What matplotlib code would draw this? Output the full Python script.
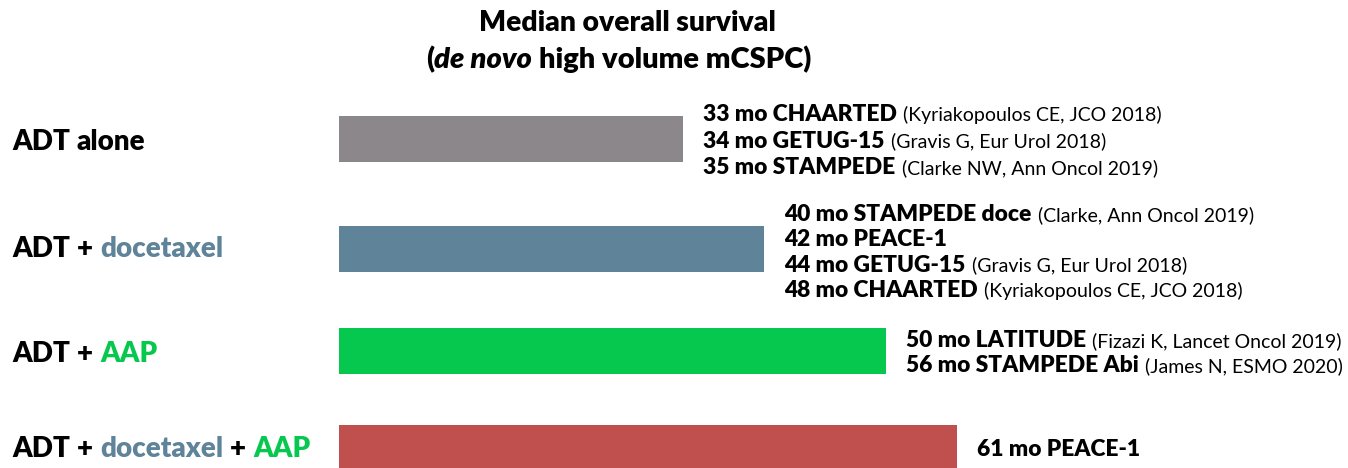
import matplotlib
matplotlib.use("Agg")
import matplotlib.pyplot as plt
from matplotlib.transforms import IdentityTransform

# ---- data -------------------------------------------------------------
categories = ["ADT alone", "ADT + docetaxel", "ADT + AAP", "ADT + docetaxel + AAP"]
median_os_months = [34, 42, 54, 61]

trial_results = [
    [("33 mo CHAARTED", "(Kyriakopoulos CE, JCO 2018)"),
     ("34 mo GETUG-15", "(Gravis G, Eur Urol 2018)"),
     ("35 mo STAMPEDE", "(Clarke NW, Ann Oncol 2019)")],
    [("40 mo STAMPEDE doce", "(Clarke, Ann Oncol 2019)"),
     ("42 mo PEACE-1", ""),
     ("44 mo GETUG-15", "(Gravis G, Eur Urol 2018)"),
     ("48 mo CHAARTED", "(Kyriakopoulos CE, JCO 2018)")],
    [("50 mo LATITUDE", "(Fizazi K, Lancet Oncol 2019)"),
     ("56 mo STAMPEDE Abi", "(James N, ESMO 2020)")],
    [("61 mo PEACE-1", "")],
]

# ---- styling ----------------------------------------------------------
W, H = 1348, 468
BLACK = "#000000"
DOCE = "#5F8399"
AAP = "#06C84F"
bar_colors = ["#8B878B", DOCE, AAP, "#C0504D"]
drug_colors = {"ADT": BLACK, "+": BLACK, "alone": BLACK,
               "docetaxel": DOCE, "AAP": AAP}
HEAVY = 800

plt.rcParams["font.family"] = ["Lato", "DejaVu Sans"]

fig = plt.figure(figsize=(W / 100, H / 100), dpi=100)
ax = fig.add_axes([0, 0, 1, 1])

# horizontal scale: months -> pixels, bars start at x = 339 px
x_origin = 339
px_per_month = 10.13
ax.set_xlim(-x_origin / px_per_month, (W - x_origin) / px_per_month)
ax.set_ylim(H, 0)          # vertical axis in pixel rows, top = 0
ax.axis("off")

bar_centers = [139, 249, 351, 448]
bar_height = 46
ax.barh(bar_centers, median_os_months, height=bar_height,
        color=bar_colors, left=0)

renderer = fig.canvas.get_renderer()


def _props(size, style):
    return dict(fontsize=size,
                fontweight="normal" if style == "light" else HEAVY,
                fontstyle="italic" if style == "italic" else "normal")


def rich_line(x, y, segments):
    """Draw a line of text pieces side by side; y is the baseline row."""
    for text, size, color, style, gap in segments:
        t = fig.text(x, H - y, text, transform=IdentityTransform(),
                     color=color, ha="left", va="baseline",
                     **_props(size, style))
        x += t.get_window_extent(renderer).width + gap
    return x


def line_width(segments):
    total = 0
    for text, size, color, style, gap in segments:
        t = fig.text(0, 0, text, **_props(size, style))
        total += t.get_window_extent(renderer).width + gap
        t.remove()
    return total


# title, two centred lines
TITLE_SIZE = 20.3
SUBTITLE_SIZE = 21.0
t1 = [("Median overall survival", TITLE_SIZE, BLACK, "bold", 0)]
t2 = [("(", SUBTITLE_SIZE, BLACK, "bold", 0),
      ("de novo", SUBTITLE_SIZE, BLACK, "italic", 7),
      ("high volume mCSPC)", SUBTITLE_SIZE, BLACK, "bold", 0)]
for segs, base, center in ((t1, 31, 627), (t2, 68, 619)):
    rich_line(center - line_width(segs) / 2, base, segs)

# treatment labels on the left
LABEL_SIZE = 20
label_baselines = [150, 257, 362, 457]
space = 7
for name, base in zip(categories, label_baselines):
    words = name.split(" ")
    segs = [(w, LABEL_SIZE, drug_colors[w], "bold", space) for w in words]
    rich_line(12, base, segs)

# trial results next to each bar
BOLD_SIZE = 16.4
REF_SIZE = 14.0
line_gap = [26.5, 25.3, 25, 0]
first_baseline = [121, 221, 347, 456]
for val, res, base0, step in zip(median_os_months, trial_results,
                                  first_baseline, line_gap):
    x_text = ax.transData.transform((val, 0))[0] + 20
    for i, (main, ref) in enumerate(res):
        segs = [(main, BOLD_SIZE, BLACK, "bold", 6)]
        if ref:
            segs.append((ref, REF_SIZE, BLACK, "light", 0))
        rich_line(x_text, base0 + i * step, segs)

fig.savefig("out.png", dpi=100)
